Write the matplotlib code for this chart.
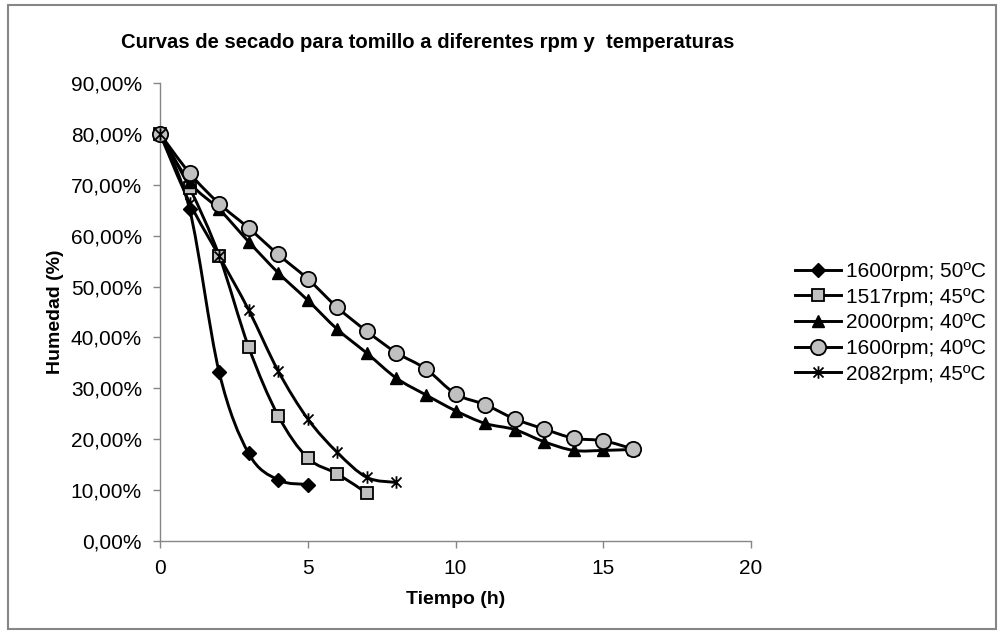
import numpy as np
import matplotlib
matplotlib.use("Agg")
import matplotlib.pyplot as plt
from matplotlib.path import Path
from matplotlib.patches import PathPatch, Rectangle
from matplotlib.lines import Line2D
from matplotlib.ticker import FuncFormatter, MultipleLocator

plt.rcParams['font.family'] = ['Liberation Sans', 'DejaVu Sans']

# ---- data ----
title = "Curvas de secado para tomillo a diferentes rpm y  temperaturas"
labels = ["1600rpm; 50ºC", "1517rpm; 45ºC", "2000rpm; 40ºC",
          "1600rpm; 40ºC", "2082rpm; 45ºC"]

t_a = [0, 1, 2, 3, 4, 5]
h_a = [0.80, 0.652, 0.332, 0.172, 0.120, 0.111]

t_b = [0, 1, 2, 3, 4, 5, 6, 7]
h_b = [0.80, 0.694, 0.561, 0.381, 0.246, 0.163, 0.132, 0.094]

t_c = list(range(17))
h_c = [0.80, 0.705, 0.652, 0.588, 0.527, 0.473, 0.416, 0.369, 0.320, 0.287,
       0.256, 0.231, 0.219, 0.195, 0.178, 0.178, 0.180]

t_d = list(range(17))
h_d = [0.80, 0.723, 0.663, 0.615, 0.563, 0.515, 0.459, 0.412, 0.370, 0.338,
       0.289, 0.268, 0.240, 0.220, 0.202, 0.197, 0.181]

t_e = [0, 1, 2, 3, 4, 5, 6, 7, 8]
h_e = [0.80, 0.665, 0.560, 0.454, 0.334, 0.240, 0.174, 0.125, 0.115]


def smooth_path(xs, ys):
    # Excel-like smoothed line: cubic bezier with catmull-rom control points
    p = np.column_stack([xs, ys]).astype(float)
    n = len(p)
    verts = [p[0]]
    codes = [Path.MOVETO]
    for i in range(n - 1):
        p0 = p[i - 1] if i > 0 else p[i]
        p3 = p[i + 2] if i + 2 < n else p[i + 1]
        c1 = p[i] + (p[i + 1] - p0) / 6.0
        c2 = p[i + 1] - (p3 - p[i]) / 6.0
        verts += [c1, c2, p[i + 1]]
        codes += [Path.CURVE4] * 3
    return Path(verts, codes)


# asterisk marker: x plus a vertical bar
star = Path([(-1, -1), (1, 1), (-1, 1), (1, -1), (0, -1.25), (0, 1.25)],
            [Path.MOVETO, Path.LINETO, Path.MOVETO, Path.LINETO, Path.MOVETO, Path.LINETO])

series = [
    (t_a, h_a, dict(marker="D", markersize=7.5, markerfacecolor="black", markeredgecolor="black")),
    (t_b, h_b, dict(marker="s", markersize=9, markerfacecolor="#c0c0c0", markeredgecolor="black", markeredgewidth=1.3)),
    (t_c, h_c, dict(marker="^", markersize=9, markerfacecolor="black", markeredgecolor="black")),
    (t_d, h_d, dict(marker="o", markersize=11, markerfacecolor="#c0c0c0", markeredgecolor="black", markeredgewidth=1.3)),
    (t_e, h_e, dict(marker=star, markersize=9, markerfacecolor="none", markeredgecolor="black", markeredgewidth=1.3)),
]

fig = plt.figure(figsize=(10.02, 6.34), dpi=100)
ax = fig.add_axes([0.1597, 0.1467, 0.5898, 0.7224])

handles = []
for (xs, ys, mk), lab in zip(series, labels):
    ax.add_patch(PathPatch(smooth_path(xs, ys), facecolor="none",
                           edgecolor="black", lw=2.1, zorder=2))
    ax.plot(xs, ys, linestyle="none", zorder=3, clip_on=False, **mk)
    handles.append(Line2D([], [], color="black", lw=2.1, **mk))

ax.set_xlim(0, 20)
ax.set_ylim(0, 0.9)
ax.xaxis.set_major_locator(MultipleLocator(5))
ax.yaxis.set_major_locator(MultipleLocator(0.1))
ax.yaxis.set_major_formatter(FuncFormatter(lambda v, p: f"{v*100:.2f}%".replace(".", ",")))

for s in ["top", "right"]:
    ax.spines[s].set_visible(False)
for s in ["left", "bottom"]:
    ax.spines[s].set_color("#868686")
    ax.spines[s].set_linewidth(1.0)
ax.tick_params(colors="#868686", labelcolor="black", labelsize=15, length=5, width=1.0)
ax.tick_params(axis="y", pad=8)
ax.tick_params(axis="x", pad=8)

fig.text(428 / 1002, 1 - 42 / 634, title, fontsize=14.6, fontweight="bold",
         ha="center", va="center")
ax.set_xlabel("Tiempo (h)", fontsize=14, fontweight="bold", labelpad=9)
ax.set_ylabel("Humedad (%)", fontsize=14, fontweight="bold", labelpad=5)

fig.legend(handles, labels, loc="upper left", bbox_to_anchor=(0.785, 0.6),
           frameon=False, fontsize=15, handlelength=2.2, handletextpad=0.25,
           labelspacing=0.32, numpoints=1, borderaxespad=0)

# chart area border
fig.patches.append(Rectangle((8 / 1002, 5 / 634), 988 / 1002, 624 / 634,
                             transform=fig.transFigure, fill=False,
                             edgecolor="#868686", lw=1.5))

fig.savefig("out.png", dpi=100)
